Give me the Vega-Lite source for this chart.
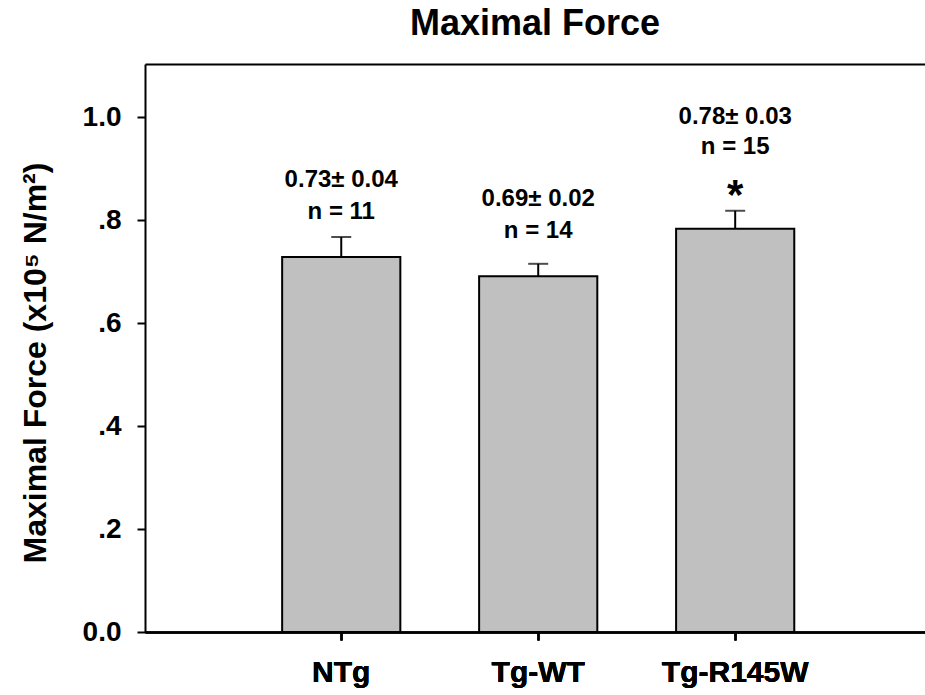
{
  "$schema": "https://vega.github.io/schema/vega-lite/v6.json",
  "width": 780,
  "height": 568,
  "autosize": {"type": "none"},
  "padding": {"left": 145, "top": 64, "right": 0, "bottom": 63},
  "background": "white",
  "config": {
    "view": {"stroke": null},
    "font": "Liberation Sans",
    "axis": {"domainColor": "black", "domainWidth": 2, "tickColor": "black", "tickWidth": 2, "labelColor": "black", "titleColor": "black", "grid": false, "labelFont": "Liberation Sans", "titleFont": "Liberation Sans", "labelFontWeight": "bold", "titleFontWeight": "bold"}
  },
  "title": {"text": "Maximal Force", "fontSize": 36, "font": "Liberation Sans", "fontWeight": "bold", "color": "black", "baseline": "alphabetic", "offset": 28, "dy": 35, "anchor": "middle"},
  "data": {"values": [
    {"group": "NTg", "mean": 0.728, "upper": 0.767, "stat": "0.73± 0.04", "n": "n = 11", "sig": ""},
    {"group": "Tg-WT", "mean": 0.691, "upper": 0.715, "stat": "0.69± 0.02", "n": "n = 14", "sig": ""},
    {"group": "Tg-R145W", "mean": 0.783, "upper": 0.818, "stat": "0.78± 0.03", "n": "n = 15", "sig": "*"}
  ]},
  "encoding": {
    "x": {"field": "group", "type": "nominal", "sort": ["NTg", "Tg-WT", "Tg-R145W"],
      "scale": {"paddingInner": 0.4, "paddingOuter": 0.68, "align": 0.512},
      "axis": {"orient": "bottom", "title": null, "labelAngle": 0, "labelFontSize": 30, "labelPadding": 17, "tickSize": 8}}
  },
  "layer": [
    {
      "mark": {"type": "bar", "fill": "#c0c0c0", "stroke": "black", "strokeWidth": 2},
      "encoding": {
        "y": {"field": "mean", "type": "quantitative",
          "scale": {"domain": [0, 1.103], "nice": false, "zero": true},
          "axis": {"values": [0, 0.2, 0.4, 0.6, 0.8, 1.0],
            "labelExpr": "datum.value == 0 ? '0.0' : (datum.value == 1 ? '1.0' : replace(format(datum.value, '.1f'), '0.', '.'))",
            "labelFontSize": 28, "labelPadding": 16, "tickSize": 8,
            "title": "Maximal Force (x10⁵ N/m²)", "titleFontSize": 32, "titleAngle": -90,
            "titleAlign": "left", "titleBaseline": "middle", "titleX": -110, "titleY": 499}}
      }
    },
    {
      "mark": {"type": "rule", "color": "black", "strokeWidth": 2},
      "encoding": {
        "y": {"field": "mean", "type": "quantitative"},
        "y2": {"field": "upper"}
      }
    },
    {
      "mark": {"type": "tick", "color": "black", "thickness": 2, "size": 20},
      "encoding": {
        "x": {"field": "group", "type": "nominal", "sort": ["NTg", "Tg-WT", "Tg-R145W"],
          "axis": {"orient": "top", "labels": false, "ticks": false, "title": null, "domainWidth": 2}},
        "y": {"field": "upper", "type": "quantitative"}
      }
    },
    {
      "transform": [{"filter": "datum.sig == ''"}],
      "layer": [
        {"mark": {"type": "text", "fontSize": 24, "fontWeight": "bold", "baseline": "middle", "dy": -77, "color": "black"},
         "encoding": {"y": {"field": "mean", "type": "quantitative"}, "text": {"field": "stat"}}},
        {"mark": {"type": "text", "fontSize": 24, "fontWeight": "bold", "baseline": "middle", "dy": -45, "color": "black"},
         "encoding": {"y": {"field": "mean", "type": "quantitative"}, "text": {"field": "n"}}}
      ]
    },
    {
      "transform": [{"filter": "datum.sig != ''"}],
      "layer": [
        {"mark": {"type": "text", "fontSize": 24, "fontWeight": "bold", "baseline": "middle", "dy": -112, "color": "black"},
         "encoding": {"y": {"field": "mean", "type": "quantitative"}, "text": {"field": "stat"}}},
        {"mark": {"type": "text", "fontSize": 24, "fontWeight": "bold", "baseline": "middle", "dy": -82, "color": "black"},
         "encoding": {"y": {"field": "mean", "type": "quantitative"}, "text": {"field": "n"}}},
        {"mark": {"type": "text", "fontSize": 42, "fontWeight": "bold", "baseline": "alphabetic", "dy": -20, "color": "black"},
         "encoding": {"y": {"field": "mean", "type": "quantitative"}, "text": {"field": "sig"}}}
      ]
    }
  ]
}
